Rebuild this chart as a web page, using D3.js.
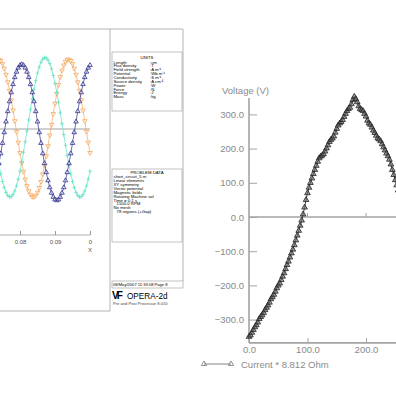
<!DOCTYPE html>
<html>
<head>
<meta charset="utf-8">
<script src="https://cdn.jsdelivr.net/npm/d3@7"></script>
<style>
body { margin: 0; background: #fff; }
svg { display: block; font-family: "Liberation Sans", Arial, sans-serif; }
</style>
</head>
<body>
<svg id="chart" width="396" height="396"></svg>
<script>
// ---- left: phase currents (A) against time (s), OPERA-2d output
let times = [0.0740,0.0745,0.0750,0.0755,0.0760,0.0765,0.0770,0.0775,0.0780,0.0785,0.0790,0.0795,0.0800,0.0805,0.0810,0.0815,0.0820,0.0825,0.0830,0.0835,0.0840,0.0845,0.0850,0.0855,0.0860,0.0865,0.0870,0.0875,0.0880,0.0885,0.0890,0.0895,0.0900,0.0905,0.0910,0.0915,0.0920,0.0925,0.0930,0.0935,0.0940,0.0945,0.0950,0.0955,0.0960,0.0965,0.0970,0.0975,0.0980,0.0985,0.0990,0.0995,0.1000];
let phaseNavy = [-20.2,-14.4,-8.3,-2.0,4.3,10.4,16.2,21.5,26.3,30.4,33.6,36.0,37.5,38.0,37.5,36.0,33.6,30.4,26.3,21.5,16.2,10.4,4.3,-2.0,-8.3,-14.4,-20.2,-25.5,-30.3,-34.4,-37.6,-40.0,-41.5,-42.0,-41.5,-40.0,-37.6,-34.4,-30.3,-25.5,-20.2,-14.4,-8.3,-2.0,4.3,10.4,16.2,21.5,26.3,30.4,33.6,36.0,37.5];
let phaseTeal = [-21.3,-26.4,-30.9,-34.5,-37.3,-39.1,-39.9,-39.8,-38.6,-36.5,-33.4,-29.5,-24.8,-19.5,-13.7,-7.5,-1.1,5.3,11.6,17.7,23.3,28.4,32.9,36.5,39.3,41.1,41.9,41.8,40.6,38.5,35.4,31.5,26.8,21.5,15.7,9.5,3.1,-3.3,-9.6,-15.7,-21.3,-26.4,-30.9,-34.5,-37.3,-39.1,-39.9,-39.8,-38.6,-36.5,-33.4,-29.5,-24.8];
let phaseOrange = [40.9,40.1,38.3,35.6,32.0,27.6,22.6,17.0,11.0,4.7,-1.6,-7.9,-14.0,-19.8,-25.0,-29.6,-33.5,-36.5,-38.6,-39.8,-39.9,-39.1,-37.3,-34.6,-31.0,-26.6,-21.6,-16.0,-10.0,-3.7,2.6,8.9,15.0,20.8,26.0,30.6,34.5,37.5,39.6,40.8,40.9,40.1,38.3,35.6,32.0,27.6,22.6,17.0,11.0,4.7,-1.6,-7.9,-14.0];
let timeTicks = [0.08, 0.09, 0.1];
let timeTickLabels = ["0.08", "0.09", "0"];

let unitNames = ["Length","Flux density","Field strength","Potential","Conductivity","Source density","Power","Force","Energy","Mass"];
let unitValues = [":cm",":T",":A m\u207B\u00B9",":Wb m\u207B\u00B9",":S m\u207B\u00B9",":A cm\u207B\u00B2",":W",":N",":J",":kg"];
let problemLines = ["short_circuit_5.rn","Linear elements","XY symmetry","Vector potential","Magnetic fields","Rotating Machine sol","Time = 0.1 s","  1500.0 RPM","No mesh","  78 regions (+Gap)"];

// ---- right: voltage (V) against current * 8.812 Ohm
let current = [0,2.5,5,7.5,10,12.5,15,17.5,20,22.5,25,27.5,30,32.5,35,37.5,40,42.5,45,47.5,50,52.5,55,57.5,60,62.5,65,67.5,70,72.5,75,77.5,80,82.5,85,87.5,90,92.5,95,97.5,100,102.5,105,107.5,110,112.5,115,117.5,120,122.5,125,127.5,130,132.5,135,137.5,140,142.5,145,147.5,150,152.5,155,157.5,160,162.5,165,167.5,170,172.5,175,177.5,180,182.5,185,187.5,190,192.5,195,197.5,200,202.5,205,207.5,210,212.5,215,217.5,220,222.5,225,227.5,230,232.5,235,237.5,240,242.5,245,247.5,250,252.5,255];
let voltage = [-350,-346,-338,-330,-322,-316,-308,-298,-292,-287,-280,-272,-265,-258,-250,-240,-234,-227,-218,-208,-200,-194,-184,-174,-164,-152,-140,-130,-118,-106,-95,-82,-68,-54,-40,-25,-10,8,28,50,70,86,100,113,126,138,150,162,172,177,180,184,192,201,210,220,226,230,236,247,258,268,274,278,284,293,302,310,316,320,330,342,352,345,336,324,316,313,310,302,294,282,274,270,262,253,246,238,230,227,222,213,204,195,186,178,168,154,138,123,108,93,78];
let voltTicks = [-300,-200,-100,0,100,200,300];
let currentTicks = [0,100,200];

let svg = d3.select("#chart");

// tiny print is drawn at double size and scaled down, so the browser's minimum font size does not apply
function tinyText(g, x, y, size, txt) {
    return g.append("text")
        .attr("transform", "translate(" + x + "," + y + ") scale(0.5)")
        .style("font-size", (size * 2) + "px")
        .text(txt);
}

function drawOpera() {
    let g = svg.append("g").attr("class", "opera");

    // page frame
    g.append("path").attr("d", "M0,29H183V281").style("fill", "none").style("stroke", "#b4b4b4");
    g.append("path").attr("d", "M110,29V311H0").style("fill", "none").style("stroke", "#b4b4b4");

    let x = d3.scaleLinear().domain([0.08, 0.1]).range([20, 90]);
    let y = d3.scaleLinear().domain([-60, 60]).range([231, 27]);

    // zero line
    g.append("line").attr("x1", 0).attr("x2", x(0.1)).attr("y1", y(0)).attr("y2", y(0))
        .style("stroke", "#8c8c8c").style("stroke-width", 0.8);

    // time axis
    g.append("line").attr("x1", 0).attr("x2", x(0.1)).attr("y1", 235).attr("y2", 235)
        .style("stroke", "#9a9a9a").style("stroke-width", 0.8);
    let xaxis = d3.axisBottom(x).tickValues(timeTicks).tickSizeInner(-4).tickSizeOuter(0).tickPadding(5)
        .tickFormat((d, i) => timeTickLabels[i]);
    let ax = g.append("g").attr("transform", "translate(0,235)").call(xaxis);
    ax.select(".domain").remove();
    ax.selectAll("line").style("stroke", "#9a9a9a");
    ax.selectAll("text").style("font-size", "6px").style("fill", "#555").style("font-family", "Liberation Sans, Arial, sans-serif");
    g.append("text").attr("x", x(0.1)).attr("y", 252).attr("text-anchor", "middle")
        .style("font-size", "6px").style("fill", "#555").text("X");

    let series = [
        { vals: phaseOrange, color: "#f3a860", mark: "down" },
        { vals: phaseTeal, color: "#63e3c4", mark: "plus" },
        { vals: phaseNavy, color: "#2e2e8e", mark: "up" }
    ];
    let line = d3.line().x(d => x(d[0])).y(d => y(d[1]));
    let tri = d3.symbol().type(d3.symbolTriangle).size(9);

    series.forEach(function(s) {
        let pts = times.map((t, i) => [t, s.vals[i]]);
        g.append("path").datum(pts).attr("d", line)
            .style("fill", "none").style("stroke", s.color).style("stroke-width", 0.7);
        let mg = g.append("g");
        pts.forEach(function(p) {
            let px = x(p[0]), py = y(p[1]);
            if (s.mark == "plus") {
                mg.append("path").attr("d", "M-1.8,0H1.8M0,-2.2V2.2")
                    .attr("transform", "translate(" + px + "," + py + ")")
                    .style("stroke", s.color).style("stroke-width", 0.8).style("fill", "none");
            } else {
                mg.append("path").attr("d", tri)
                    .attr("transform", "translate(" + px + "," + py + ")" + (s.mark == "down" ? " rotate(180)" : ""))
                    .style("stroke", s.color).style("stroke-width", 0.8).style("fill", "#fff").style("fill-opacity", 0.4);
            }
        });
    });

    // units box
    let fs = 4.3;
    let lh = 3.85;
    g.append("rect").attr("x", 112).attr("y", 52).attr("width", 70).attr("height", 59)
        .style("fill", "none").style("stroke", "#9a9a9a").style("stroke-width", 0.6);
    tinyText(g, 147, 58.8, fs, "UNITS").attr("text-anchor", "middle");
    unitNames.forEach(function(n, i) {
        tinyText(g, 113.5, 63.6 + i * lh, fs, n);
        tinyText(g, 150, 63.6 + i * lh, fs, unitValues[i]);
    });

    // problem data box
    g.append("rect").attr("x", 112).attr("y", 169).attr("width", 70).attr("height", 73)
        .style("fill", "none").style("stroke", "#9a9a9a").style("stroke-width", 0.6);
    tinyText(g, 147, 174.3, fs, "PROBLEM DATA").attr("text-anchor", "middle");
    problemLines.forEach(function(n, i) {
        let indent = n.startsWith(" ") ? 3 : 0;
        tinyText(g, 113.5 + indent, 178.4 + i * lh, fs, n.trim());
    });

    // date stamp and logo
    g.append("rect").attr("x", 112).attr("y", 281).attr("width", 71).attr("height", 7)
        .style("fill", "none").style("stroke", "#9a9a9a").style("stroke-width", 0.6);
    tinyText(g, 113, 286.3, 4.1, "08/May/2007 11:33:08 Page 8");
    g.append("text").attr("x", 112).attr("y", 299).style("font-size", "10px").style("font-weight", "bold")
        .style("letter-spacing", "-2px").text("VF");
    g.append("text").attr("x", 127).attr("y", 298.5).style("font-size", "8.2px").text("OPERA-2d");
    tinyText(g, 113, 304.8, 4.1, "Pre and Post Processor 8.010").style("fill", "#444");
}

function drawVoltage() {
    let g = svg.append("g").attr("class", "voltage");
    let grey = "#a3a3a3";
    let textgrey = "#8a8a8a";

    let x = d3.scaleLinear().domain([0, 100]).range([249, 307.5]);
    let y = d3.scaleLinear().domain([0, 300]).range([217, 114.4]);

    // axes lines
    g.append("line").attr("x1", x(0)).attr("x2", x(0)).attr("y1", y(348)).attr("y2", y(-368))
        .style("stroke", grey).style("stroke-width", 1.6);
    g.append("line").attr("x1", x(0)).attr("x2", 396).attr("y1", y(-368)).attr("y2", y(-368))
        .style("stroke", grey).style("stroke-width", 1.6);
    g.append("line").attr("x1", x(0)).attr("x2", 396).attr("y1", y(0)).attr("y2", y(0))
        .style("stroke", grey).style("stroke-width", 1.3);

    let yaxis = d3.axisLeft(y).tickValues(voltTicks).tickSizeInner(-8).tickSizeOuter(0).tickPadding(5)
        .tickFormat(d3.format(".1f"));
    let ya = g.append("g").attr("transform", "translate(" + x(0) + ",0)").call(yaxis);
    ya.select(".domain").remove();
    ya.selectAll("line").style("stroke", grey).style("stroke-width", 1);
    ya.selectAll("text").style("font-size", "9.5px").style("fill", textgrey).style("font-family", "Liberation Sans, Arial, sans-serif");

    let xaxis = d3.axisBottom(x).tickValues(currentTicks).tickSizeInner(-5).tickSizeOuter(0).tickPadding(3)
        .tickFormat(d3.format(".1f"));
    let xa = g.append("g").attr("transform", "translate(0," + y(-368) + ")").call(xaxis);
    xa.select(".domain").remove();
    xa.selectAll("line").style("stroke", grey).style("stroke-width", 1);
    xa.selectAll("text").style("font-size", "9.5px").style("fill", textgrey).style("font-family", "Liberation Sans, Arial, sans-serif");

    // small ticks on the zero line
    currentTicks.slice(1).forEach(function(t) {
        g.append("line").attr("x1", x(t)).attr("x2", x(t)).attr("y1", y(0)).attr("y2", y(0) - 4)
            .style("stroke", grey);
    });

    g.append("text").attr("x", 222).attr("y", 94).style("font-size", "9.5px").style("fill", textgrey)
        .text("Voltage (V)");

    // curve
    let pts = current.map((c, i) => [c, voltage[i]]);
    let line = d3.line().x(d => x(d[0])).y(d => y(d[1]));
    g.append("path").datum(pts).attr("d", line)
        .style("fill", "none").style("stroke", "#444").style("stroke-width", 1);
    let tri = d3.symbol().type(d3.symbolTriangle).size(14);
    g.selectAll("path.pt").data(pts).enter().append("path").attr("class", "pt")
        .attr("d", tri)
        .attr("transform", d => "translate(" + x(d[0]) + "," + y(d[1]) + ")")
        .style("fill", "#666").style("fill-opacity", 0.6).style("stroke", "#222").style("stroke-width", 0.8);

    // legend
    let lg = g.append("g").attr("transform", "translate(0,364)");
    lg.append("line").attr("x1", 204).attr("x2", 231).style("stroke", "#666").style("stroke-width", 0.8);
    [204, 231].forEach(function(px) {
        lg.append("path").attr("d", d3.symbol().type(d3.symbolTriangle).size(12))
            .attr("transform", "translate(" + px + ",0)")
            .style("fill", "none").style("stroke", "#777").style("stroke-width", 0.8);
    });
    lg.append("text").attr("x", 241).attr("y", 3.5).style("font-size", "9.5px").style("fill", textgrey)
        .text("Current * 8.812 Ohm");
}

drawOpera();
drawVoltage();
</script>
</body>
</html>
